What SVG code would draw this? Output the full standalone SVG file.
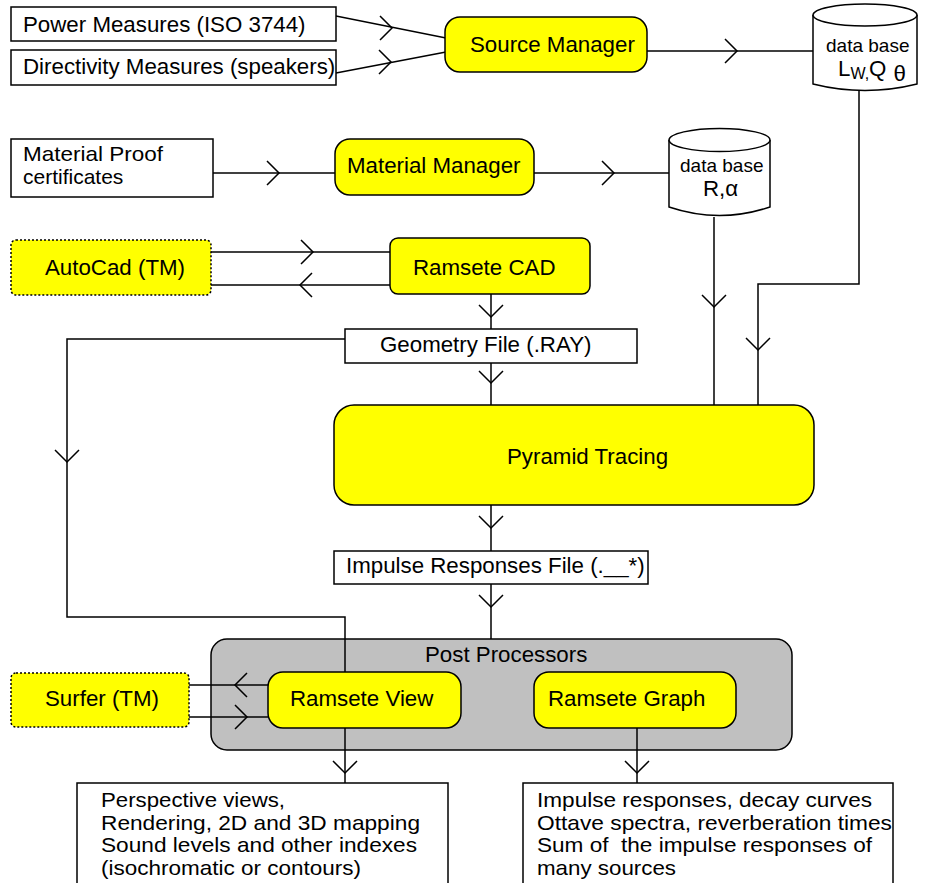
<svg xmlns="http://www.w3.org/2000/svg" xmlns:xlink="http://www.w3.org/1999/xlink" width="927" height="883" viewBox="0 0 927 883">
<style>
text{font-family:"Liberation Sans",Arial,sans-serif;font-size:22.3px;fill:#000}
.box{fill:#fff;stroke:#000;stroke-width:1.5}
.yel{fill:#ffff00;stroke:#000;stroke-width:1.5}
.ext{fill:#ffff00;stroke:#000;stroke-width:1.5;stroke-dasharray:2 2}
.gray{fill:#c0c0c0;stroke:#000;stroke-width:1.5}
.ln{fill:none;stroke:#000;stroke-width:1.5}
.sm{font-size:19px}
.lst{font-size:21px}
.mp{font-size:21px}
</style>
<defs>
<path id="cr" d="M-12,-12 L0,0 L-12,12" fill="none" stroke="#000" stroke-width="1.5"/>
<path id="cl" d="M12,-12 L0,0 L12,12" fill="none" stroke="#000" stroke-width="1.5"/>
<path id="cd" d="M-12,-12 L0,0 L12,-12" fill="none" stroke="#000" stroke-width="1.5"/>
</defs>
<rect width="927" height="883" fill="#fff"/>

<g id="post-processors">
<rect class="gray" x="211" y="639" width="581" height="111" rx="16"/>
<text x="425" y="662">Post Processors</text>
</g>

<g id="connectors">
<path class="ln" d="M336,16 L446,38"/>
<use xlink:href="#cr" x="392" y="28"/>
<path class="ln" d="M336,73 L446,52"/>
<use xlink:href="#cr" x="391" y="62"/>
<path class="ln" d="M647,51 L813,51"/>
<use xlink:href="#cr" x="737" y="51"/>
<path class="ln" d="M213,173 L335,173"/>
<use xlink:href="#cr" x="279" y="173"/>
<path class="ln" d="M534,173 L669,173"/>
<use xlink:href="#cr" x="614" y="173"/>
<path class="ln" d="M211,252 L390,252"/>
<use xlink:href="#cr" x="313" y="252"/>
<path class="ln" d="M390,285 L211,285"/>
<use xlink:href="#cl" x="300" y="285"/>
<path class="ln" d="M491,294 L491,329"/>
<use xlink:href="#cd" x="491" y="317"/>
<path class="ln" d="M491,363 L491,405"/>
<use xlink:href="#cd" x="491" y="383"/>
<path class="ln" d="M714,217 L714,405"/>
<use xlink:href="#cd" x="714" y="307"/>
<path class="ln" d="M859,89 L859,284 L758,284 L758,405"/>
<use xlink:href="#cd" x="758" y="350"/>
<path class="ln" d="M491,505 L491,551"/>
<use xlink:href="#cd" x="491" y="528"/>
<path class="ln" d="M491,584 L491,639"/>
<use xlink:href="#cd" x="491" y="607"/>
<path class="ln" d="M345,339 L67,339 L67,617 L345,617 L345,672"/>
<use xlink:href="#cd" x="67" y="462"/>
<path class="ln" d="M268,685 L189,685"/>
<use xlink:href="#cl" x="235" y="685"/>
<path class="ln" d="M189,717 L268,717"/>
<use xlink:href="#cr" x="247" y="717"/>
<path class="ln" d="M345,728 L345,783"/>
<use xlink:href="#cd" x="345" y="773"/>
<path class="ln" d="M637,728 L637,783"/>
<use xlink:href="#cd" x="637" y="773"/>
</g>

<g id="power-measures">
<rect class="box" x="11" y="7" width="325" height="34"/>
<text x="23" y="32">Power Measures (ISO 3744)</text>
</g>
<g id="directivity-measures">
<rect class="box" x="11" y="50" width="325" height="35"/>
<text x="23" y="74">Directivity Measures (speakers)</text>
</g>
<g id="source-manager">
<rect class="yel" x="445" y="17" width="202" height="55" rx="15"/>
<text x="470" y="52">Source Manager</text>
</g>
<g id="db-source">
<path class="box" d="M813,15 L813,84 Q865,97 917,84 L917,15"/>
<ellipse class="box" cx="865" cy="15" rx="52" ry="11"/>
<text class="sm" x="826" y="52">data base</text>
<text x="838" y="76" font-size="24">L<tspan font-size="16" dy="3">W</tspan><tspan font-size="16">,</tspan><tspan dy="-3">Q</tspan><tspan dx="7" dy="5">θ</tspan></text>
</g>

<g id="material-proof">
<rect class="box" x="11" y="139" width="202" height="58"/>
<text class="mp" x="23" y="161" textLength="140" lengthAdjust="spacingAndGlyphs">Material Proof</text>
<text class="mp" x="23" y="184">certificates</text>
</g>
<g id="material-manager">
<rect class="yel" x="335" y="139" width="199" height="56" rx="15"/>
<text x="347" y="173">Material Manager</text>
</g>
<g id="db-material">
<path class="box" d="M669,140 L669,207 Q719.5,224 770,207 L770,140"/>
<ellipse class="box" cx="719.5" cy="140" rx="50.5" ry="11.5"/>
<text class="sm" x="680" y="172">data base</text>
<text x="703" y="196" font-size="24">R,α</text>
</g>

<g id="autocad">
<rect class="ext" x="11" y="240" width="200" height="55" rx="5"/>
<text x="45" y="275">AutoCad (TM)</text>
</g>
<g id="ramsete-cad">
<rect class="yel" x="390" y="238" width="200" height="56" rx="8"/>
<text x="413" y="275">Ramsete CAD</text>
</g>
<g id="geometry-file">
<rect class="box" x="345" y="329" width="292" height="34"/>
<text x="380" y="352">Geometry File (.RAY)</text>
</g>
<g id="pyramid-tracing">
<rect class="yel" x="334" y="405" width="480" height="100" rx="20"/>
<text x="507" y="464">Pyramid Tracing</text>
</g>
<g id="impulse-file">
<rect class="box" x="334" y="551" width="314" height="33"/>
<text x="346" y="573">Impulse Responses File (.__*)</text>
</g>

<g id="surfer">
<rect class="ext" x="11" y="673" width="178" height="54" rx="5"/>
<text x="45" y="706">Surfer (TM)</text>
</g>
<g id="ramsete-view">
<rect class="yel" x="268" y="672" width="193" height="56" rx="15"/>
<text x="290" y="706">Ramsete View</text>
</g>
<g id="ramsete-graph">
<rect class="yel" x="534" y="672" width="202" height="56" rx="15"/>
<text x="548" y="706">Ramsete Graph</text>
</g>

<g id="view-output">
<rect class="box" x="77" y="783" width="371" height="110"/>
<text class="lst" x="101" y="807" textLength="184" lengthAdjust="spacingAndGlyphs">Perspective views,</text>
<text class="lst" x="101" y="830" textLength="319" lengthAdjust="spacingAndGlyphs">Rendering, 2D and 3D mapping</text>
<text class="lst" x="101" y="852" textLength="316" lengthAdjust="spacingAndGlyphs">Sound levels and other indexes</text>
<text class="lst" x="101" y="875" textLength="260" lengthAdjust="spacingAndGlyphs">(isochromatic or contours)</text>
</g>
<g id="graph-output">
<rect class="box" x="523" y="783" width="370" height="110"/>
<text class="lst" x="537" y="807" textLength="335" lengthAdjust="spacingAndGlyphs">Impulse responses, decay curves</text>
<text class="lst" x="537" y="830" textLength="355" lengthAdjust="spacingAndGlyphs">Ottave spectra, reverberation times</text>
<text class="lst" x="537" y="852" textLength="335" lengthAdjust="spacingAndGlyphs" xml:space="preserve">Sum of  the impulse responses of</text>
<text class="lst" x="537" y="875" textLength="139" lengthAdjust="spacingAndGlyphs">many sources</text>
</g>
</svg>
